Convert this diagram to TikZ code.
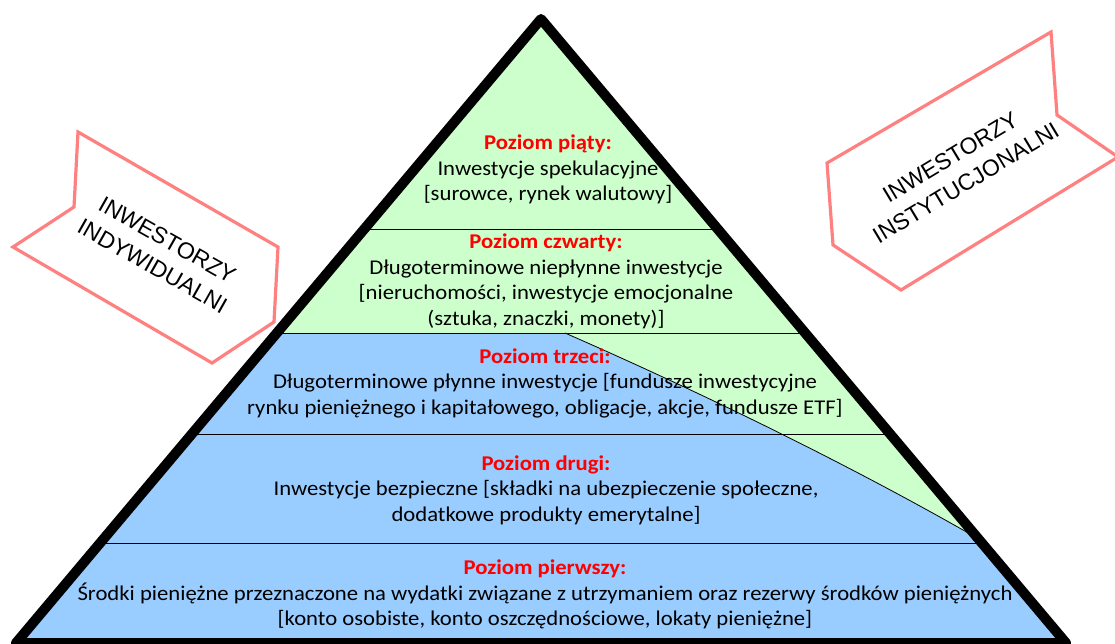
\documentclass[tikz,border=0pt]{standalone}
\usepackage{fontspec}
\setmainfont{Carlito}[FakeStretch=1.08]
\newfontfamily\arialf{Liberation Sans}
\definecolor{greenc}{HTML}{CCFFCC}
\definecolor{bluec}{HTML}{99CCFF}
\definecolor{pinkc}{HTML}{FF8080}
\definecolor{redc}{HTML}{FF0000}
\begin{document}
\begin{tikzpicture}[x=1pt,y=-1pt,
  lvl/.style={align=center, inner sep=0pt, font=\fontsize{21}{25.5}\selectfont},
  tag/.style={draw=pinkc, line width=3.2pt, fill=white, line join=miter},
  lab/.style={align=center, inner sep=0pt, font=\arialf\fontsize{23}{30}\selectfont},
  sep/.style={draw=black, line width=0.9pt},
  edge/.style={draw=black, line width=10pt, line join=round}
]
\useasboundingbox (0,0) rectangle (1115,644);
\newcommand{\ttlx}[1]{{\color{redc}\bfseries #1}}
% side tags
\draw[tag] (78,132) -- (278,247) -- (274,322) -- (212,363) -- (13,247) -- (74,207) -- cycle;
\draw[tag] (827,163) -- (1051,32) -- (1057,115) -- (1118,157) -- (901,290) -- (833,245) -- cycle;
\node[lab, rotate=-29.5] (indiv) at (160,253) {INWESTORZY\\INDYWIDUALNI};
\node[lab, rotate=31] (inst) at (958,170) {INWESTORZY\\INSTYTUCJONALNI};
% pyramid
\coordinate (A) at (541,19);
\coordinate (BL) at (16,643);
\coordinate (BR) at (1066,643);
\fill[bluec] (A) -- (BL) -- (BR) -- cycle;
\begin{scope}
\clip (A) -- (BL) -- (BR) -- cycle;
\fill[greenc] (-50,-50) -- (1200,-50) -- (1200,538) -- (977,538) .. controls (850,465) and (700,392) .. (565,333) -- (-50,333) -- cycle;
\draw[line width=0.8pt] (977,538) .. controls (850,465) and (700,392) .. (565,333);
\draw[sep] (-50,229) -- (1200,229);
\draw[sep] (-50,333) -- (1200,333);
\draw[sep] (-50,434.5) -- (1200,434.5);
\draw[sep] (-50,543.5) -- (1200,543.5);
\end{scope}
\draw[edge] (A) -- (BL) -- (BR) -- cycle;
% texts
\node[lvl] (l5) at (548,169.5) {\ttlx{Poziom piąty:}\\Inwestycje spekulacyjne\\{[}surowce, rynek walutowy{]}};
\node[lvl] (l4) at (546,281.5) {\ttlx{Poziom czwarty:}\\Długoterminowe niepłynne inwestycje\\{[}nieruchomości, inwestycje emocjonalne\\(sztuka, znaczki, monety){]}};
\node[lvl] (l3) at (545,383) {\ttlx{Poziom trzeci:}\\Długoterminowe płynne inwestycje [fundusze inwestycyjne\\rynku pieniężnego i kapitałowego, obligacje, akcje, fundusze ETF{]}};
\node[lvl] (l2) at (546,490) {\ttlx{Poziom drugi:}\\Inwestycje bezpieczne [składki na ubezpieczenie społeczne,\\dodatkowe produkty emerytalne{]}};
\node[lvl] (l1) at (545,594.5) {\ttlx{Poziom pierwszy:}\\Środki pieniężne przeznaczone na wydatki związane z utrzymaniem oraz rezerwy środków pieniężnych\\{[}konto osobiste, konto oszczędnościowe, lokaty pieniężne{]}};
\end{tikzpicture}
\end{document}
